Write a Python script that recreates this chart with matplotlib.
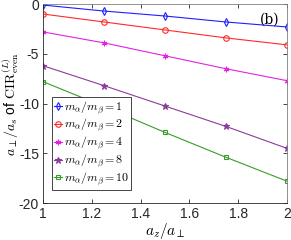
import matplotlib
matplotlib.use("Agg")
import matplotlib.pyplot as plt

plt.rcParams['mathtext.fontset'] = 'cm'
plt.rcParams['font.family'] = ['Liberation Sans', 'DejaVu Sans']

# a_z / a_perp sample points
az = [1.0, 1.25, 1.5, 1.75, 2.0]

# a_perp / a_s of CIR (even) for each mass ratio
ratio_labels = ['1', '2', '4', '8', '10']
y_r1 = [-0.1, -0.7, -1.2, -1.8, -2.3]
y_r2 = [-1.0, -1.8, -2.6, -3.4, -4.1]
y_r4 = [-2.8, -3.9, -5.2, -6.5, -7.7]
y_r8 = [-6.2, -8.2, -10.25, -12.3, -14.5]
y_r10 = [-7.8, -10.3, -12.9, -15.4, -17.8]

series = [y_r1, y_r2, y_r4, y_r8, y_r10]
colors = ['#1f1fff', '#ff2a2a', '#e024e0', '#8a3c9a', '#3a9c2a']
markers = ['d', 'o', (6, 2, 0), '*', 's']
mfcs = ['none', 'none', None, None, 'none']
msizes = [4, 4, 4, 4.5, 3.5]

fig = plt.figure(figsize=(2.91, 2.40), dpi=100)
ax = fig.add_axes([0.148, 0.154, 0.838, 0.829])

for ys, c, m, fc, ms, lab in zip(series, colors, markers, mfcs, msizes, ratio_labels):
    kw = dict(color=c, marker=m, markersize=ms, linewidth=0.8,
              markeredgewidth=0.8, label=r'$m_\alpha/m_\beta = %s$' % lab)
    if fc is not None:
        kw['markerfacecolor'] = fc
    ax.plot(az, ys, **kw)

ax.set_xlim(1, 2)
ax.set_ylim(-20, 0)
ax.set_xticks([1, 1.2, 1.4, 1.6, 1.8, 2])
ax.set_xticklabels(['1', '1.2', '1.4', '1.6', '1.8', '2'])
ax.set_yticks([0, -5, -10, -15, -20])
ax.set_yticklabels(['0', '-5', '-10', '-15', '-20'])
ax.tick_params(direction='in', top=True, right=True, length=3, width=0.6,
               labelsize=10, colors='#262626', pad=3)
for s in ax.spines.values():
    s.set_linewidth(0.6)
    s.set_color('#262626')
ax.spines['top'].set_color('#808080')
ax.spines['right'].set_color('#808080')

ax.set_xlabel(r'$a_z/a_\perp$', fontsize=11, labelpad=0)
ax.set_ylabel(r'$a_\perp/a_s$ of $\mathrm{CIR}_{\mathrm{even}}^{(L)}$', fontsize=10)
ax.yaxis.set_label_coords(-0.092, 0.5)

ax.text(0.97, 0.955, '(b)', transform=ax.transAxes, ha='right', va='top',
        fontsize=10, family='DejaVu Serif')

leg = ax.legend(loc='lower left', bbox_to_anchor=(0.035, 0.065), fontsize=8.6,
                handlelength=0.7, handletextpad=0.1, borderpad=0.2,
                labelspacing=0.05, borderaxespad=0, fancybox=False,
                framealpha=1, edgecolor='#262626')
leg.get_frame().set_linewidth(0.6)

fig.savefig('out.png', dpi=100)
